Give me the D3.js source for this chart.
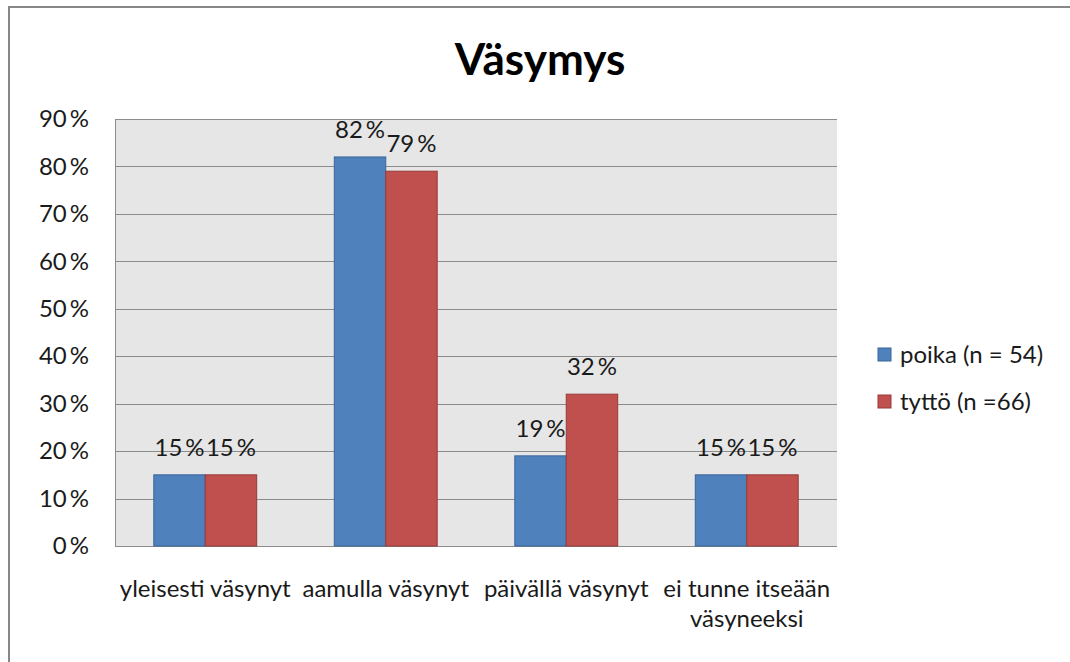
<!DOCTYPE html>
<html>
<head>
<meta charset="utf-8">
<script src="https://cdn.jsdelivr.net/npm/d3@7"></script>
<style>
  body { margin: 0; background: #fff; }
  svg { display: block; font-family: Lato, "Open Sans", sans-serif; }
</style>
</head>
<body>
<svg width="1070" height="662"></svg>
<script>
const title = "Väsymys";
const categories = ["yleisesti väsynyt", "aamulla väsynyt", "päivällä väsynyt", "ei tunne itseään väsyneeksi"];
const seriesNames = ["poika (n = 54)", "tyttö (n =66)"];
const poika = [0.15, 0.82, 0.19, 0.15];
const tytto = [0.15, 0.79, 0.32, 0.15];
const yTicks = [0, 0.1, 0.2, 0.3, 0.4, 0.5, 0.6, 0.7, 0.8, 0.9];
const colors = ["#4f81bd", "#c0504d"];
const strokes = ["#3a6599", "#973a38"];

const svg = d3.select("svg");
const width = +svg.attr("width");
const height = +svg.attr("height");

const plot = { left: 115, right: 837, top: 119, bottom: 546 };
const fs = 24;
const pct = (d) => Math.round(d * 100) + "\u2009%";

// outer chart frame, runs off the right and bottom edges
svg.append("rect")
  .attr("x", 9).attr("y", 7)
  .attr("width", width + 40).attr("height", height + 40)
  .attr("fill", "#fff")
  .attr("stroke", "#878787")
  .attr("stroke-width", 2);

svg.append("text")
  .attr("x", 540).attr("y", 75)
  .attr("text-anchor", "middle")
  .attr("font-size", 44)
  .attr("font-weight", "bold")
  .attr("fill", "#000")
  .text(title);

const x0 = d3.scaleBand()
  .domain(categories)
  .range([plot.left, plot.right])
  .paddingInner(0.43)
  .paddingOuter(0.215);

const x1 = d3.scaleBand()
  .domain([0, 1])
  .range([0, x0.bandwidth()]);

const y = d3.scaleLinear()
  .domain([0, 0.9])
  .range([plot.bottom, plot.top]);

svg.append("rect")
  .attr("x", plot.left).attr("y", plot.top)
  .attr("width", plot.right - plot.left)
  .attr("height", plot.bottom - plot.top)
  .attr("fill", "#e6e6e6");

// gridlines
svg.append("g")
  .selectAll("line")
  .data(yTicks)
  .join("line")
  .attr("x1", plot.left).attr("x2", plot.right)
  .attr("y1", (d) => Math.round(y(d)) + 0.5)
  .attr("y2", (d) => Math.round(y(d)) + 0.5)
  .attr("stroke", "#8c8c8c")
  .attr("stroke-width", 1);

svg.append("line")
  .attr("x1", plot.left + 0.5).attr("x2", plot.left + 0.5)
  .attr("y1", plot.top).attr("y2", plot.bottom)
  .attr("stroke", "#8c8c8c");

// y axis labels
const yAxis = d3.axisLeft(y)
  .tickValues(yTicks)
  .tickFormat(pct)
  .tickSize(0)
  .tickPadding(26);

const gy = svg.append("g")
  .attr("transform", `translate(${plot.left},0)`)
  .call(yAxis);
gy.select(".domain").remove();
gy.selectAll("text")
  .attr("font-family", "Lato, sans-serif")
  .attr("font-size", fs)
  .attr("fill", "#1a1a1a");

// bars
const rows = categories.map((c, i) => ({ cat: c, vals: [poika[i], tytto[i]] }));

const groups = svg.append("g")
  .selectAll("g")
  .data(rows)
  .join("g")
  .attr("transform", (d) => `translate(${x0(d.cat)},0)`);

groups.selectAll("rect")
  .data((d) => d.vals.map((v, k) => ({ k, v })))
  .join("rect")
  .attr("x", (d) => x1(d.k))
  .attr("y", (d) => y(d.v))
  .attr("width", x1.bandwidth())
  .attr("height", (d) => y(0) - y(d.v))
  .attr("fill", (d) => colors[d.k])
  .attr("stroke", (d) => strokes[d.k])
  .attr("stroke-width", 1);

groups.selectAll("text")
  .data((d) => d.vals.map((v, k) => ({ k, v })))
  .join("text")
  .attr("x", (d) => x1(d.k) + x1.bandwidth() / 2)
  .attr("y", (d) => y(d.v) - 19)
  .attr("text-anchor", "middle")
  .attr("font-size", fs)
  .attr("fill", "#1a1a1a")
  .text((d) => pct(d.v));

// category labels, wrapped to the band step
const xLabels = svg.append("g")
  .selectAll("text")
  .data(categories)
  .join("text")
  .attr("x", (d) => x0(d) + x0.bandwidth() / 2)
  .attr("y", 597)
  .attr("text-anchor", "middle")
  .attr("font-size", fs)
  .attr("fill", "#1a1a1a");

xLabels.each(function (d) {
  const el = d3.select(this);
  const words = d.split(" ");
  const cx = +el.attr("x");
  let line = [];
  let tspan = el.append("tspan").attr("x", cx).attr("dy", 0);
  words.forEach((w) => {
    line.push(w);
    tspan.text(line.join(" "));
    if (tspan.node().getComputedTextLength() > x0.step() && line.length > 1) {
      line.pop();
      tspan.text(line.join(" "));
      line = [w];
      tspan = el.append("tspan").attr("x", cx).attr("dy", 30).text(w);
    }
  });
});

// legend
const legend = svg.append("g")
  .selectAll("g")
  .data(seriesNames)
  .join("g")
  .attr("transform", (d, i) => `translate(878,${355 + i * 47})`);

legend.append("rect")
  .attr("x", 0).attr("y", -7)
  .attr("width", 13).attr("height", 13)
  .attr("fill", (d, i) => colors[i])
  .attr("stroke", (d, i) => strokes[i]);

legend.append("text")
  .attr("x", 22).attr("y", 8)
  .attr("font-size", fs)
  .attr("fill", "#1a1a1a")
  .text((d) => d);
</script>
</body>
</html>
